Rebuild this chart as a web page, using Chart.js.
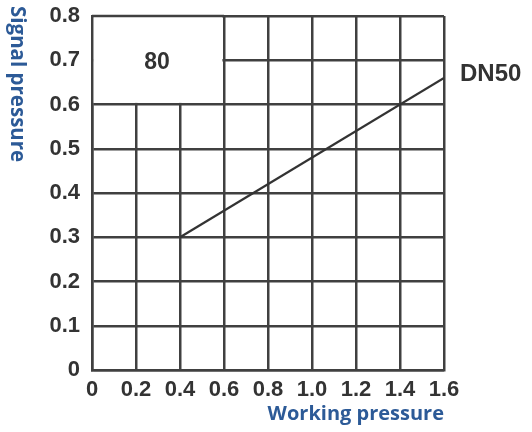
<!DOCTYPE html>
<html>
<head>
<meta charset="utf-8">
<script src="https://cdn.jsdelivr.net/npm/chart.js@4.4.1/dist/chart.umd.min.js"></script>
<style>
  html, body { margin: 0; padding: 0; background: #fff; }
  #wrap { width: 532px; height: 432px; position: relative; }
</style>
</head>
<body>
<div id="wrap"><canvas id="chart"></canvas></div>
<script>
// Chart data
const workingPressure = [0.4, 1.6];
const signalPressure = [0.3, 0.66];
const seriesLabel = 'DN50';

const xTickValues = [0, 0.2, 0.4, 0.6, 0.8, 1.0, 1.2, 1.4, 1.6];
const yTickValues = [0, 0.1, 0.2, 0.3, 0.4, 0.5, 0.6, 0.7, 0.8];

// Blank region in the top-left corner with its label
const boxX = [0, 0.6];
const boxY = [0.6, 0.8];
const boxLabel = '80';

const xTitle = 'Working pressure';
const yTitle = 'Signal pressure';

const gridColor = '#404040';
const tickColor = '#333';
const titleColor = '#2c5a97';

function fmt(v) {
    return v === 0 ? '0' : v.toFixed(1);
}

// Draws the blank box, the series label and both axis titles
const annotations = {
    id: 'annotations',
    beforeDatasetsDraw(chart) {
        const { ctx, scales: { x, y } } = chart;
        const inset = 1.6;
        const x0 = x.getPixelForValue(boxX[0]);
        const x1 = x.getPixelForValue(boxX[1]);
        const y0 = y.getPixelForValue(boxY[0]);
        const y1 = y.getPixelForValue(boxY[1]);
        ctx.save();
        // wipe the grid inside the box (and the stubs poking above it)
        ctx.fillStyle = '#fff';
        ctx.fillRect(x0 + inset, y1 - 5, x1 - x0 - 2 * inset, y0 - y1 + 5 - inset);
        // put the top edge back
        ctx.strokeStyle = gridColor;
        ctx.lineWidth = 2.5;
        ctx.beginPath();
        ctx.moveTo(x0, y1);
        ctx.lineTo(x1, y1);
        ctx.stroke();

        ctx.fillStyle = '#333';
        ctx.font = 'bold 23px "Liberation Sans", Arial, sans-serif';
        ctx.textAlign = 'center';
        ctx.textBaseline = 'middle';
        ctx.fillText(boxLabel, (x0 + x1) / 2 - 1, (y0 + y1) / 2 + 2);
        ctx.restore();
    },
    afterDraw(chart) {
        const { ctx, chartArea, scales: { x, y } } = chart;
        ctx.save();
        // series label at the end of the line
        const last = workingPressure.length - 1;
        ctx.fillStyle = '#333';
        ctx.font = 'bold 24px "Liberation Sans", Arial, sans-serif';
        ctx.textAlign = 'left';
        ctx.textBaseline = 'middle';
        ctx.fillText(seriesLabel, x.getPixelForValue(workingPressure[last]) + 16, y.getPixelForValue(signalPressure[last]) - 4);

        // x title
        ctx.fillStyle = titleColor;
        ctx.font = 'bold 20px "Open Sans", sans-serif';
        ctx.textAlign = 'right';
        ctx.textBaseline = 'middle';
        ctx.fillText(xTitle, chartArea.right, chartArea.bottom + 44);

        // y title, reading top to bottom
        ctx.font = 'bold 20.5px "Open Sans", sans-serif';
        ctx.translate(17, 6);
        ctx.rotate(Math.PI / 2);
        ctx.textAlign = 'left';
        ctx.fillText(yTitle, 0, 0);
        ctx.restore();
    }
};

new Chart(document.getElementById('chart'), {
    type: 'scatter',
    data: {
        datasets: [{
            label: seriesLabel,
            data: workingPressure.map((v, i) => ({ x: v, y: signalPressure[i] })),
            showLine: true,
            borderColor: '#333',
            borderWidth: 2.2,
            pointRadius: 0,
            fill: false
        }]
    },
    options: {
        responsive: true,
        maintainAspectRatio: false,
        animation: false,
        layout: { padding: { left: 0, right: 88, top: 16, bottom: 0 } },
        plugins: {
            legend: { display: false },
            tooltip: { enabled: false }
        },
        scales: {
            x: {
                type: 'linear',
                min: 0,
                max: 1.6,
                afterBuildTicks: (scale) => { scale.ticks = xTickValues.map(v => ({ value: v })); },
                afterFit: (scale) => {
                    scale.height = 62;
                    scale.paddingLeft = 0;
                    scale.paddingRight = 0;
                },
                grid: { color: gridColor, lineWidth: 2.5, drawTicks: false },
                border: { color: gridColor, width: 2.5 },
                ticks: {
                    padding: 7,
                    color: tickColor,
                    font: { family: '"Liberation Sans", Arial, sans-serif', size: 22, weight: 'bold' },
                    maxRotation: 0,
                    callback: (v) => fmt(v)
                }
            },
            y: {
                type: 'linear',
                min: 0,
                max: 0.8,
                afterBuildTicks: (scale) => { scale.ticks = yTickValues.map(v => ({ value: v })); },
                afterFit: (scale) => {
                    scale.width = 92;
                    scale.paddingTop = 0;
                    scale.paddingBottom = 0;
                },
                grid: { color: gridColor, lineWidth: 2.5, drawTicks: false },
                border: { color: gridColor, width: 2.5 },
                ticks: {
                    padding: 12,
                    color: tickColor,
                    font: { family: '"Liberation Sans", Arial, sans-serif', size: 22, weight: 'bold' },
                    callback: (v) => fmt(v)
                }
            }
        }
    },
    plugins: [annotations]
});
</script>
</body>
</html>
